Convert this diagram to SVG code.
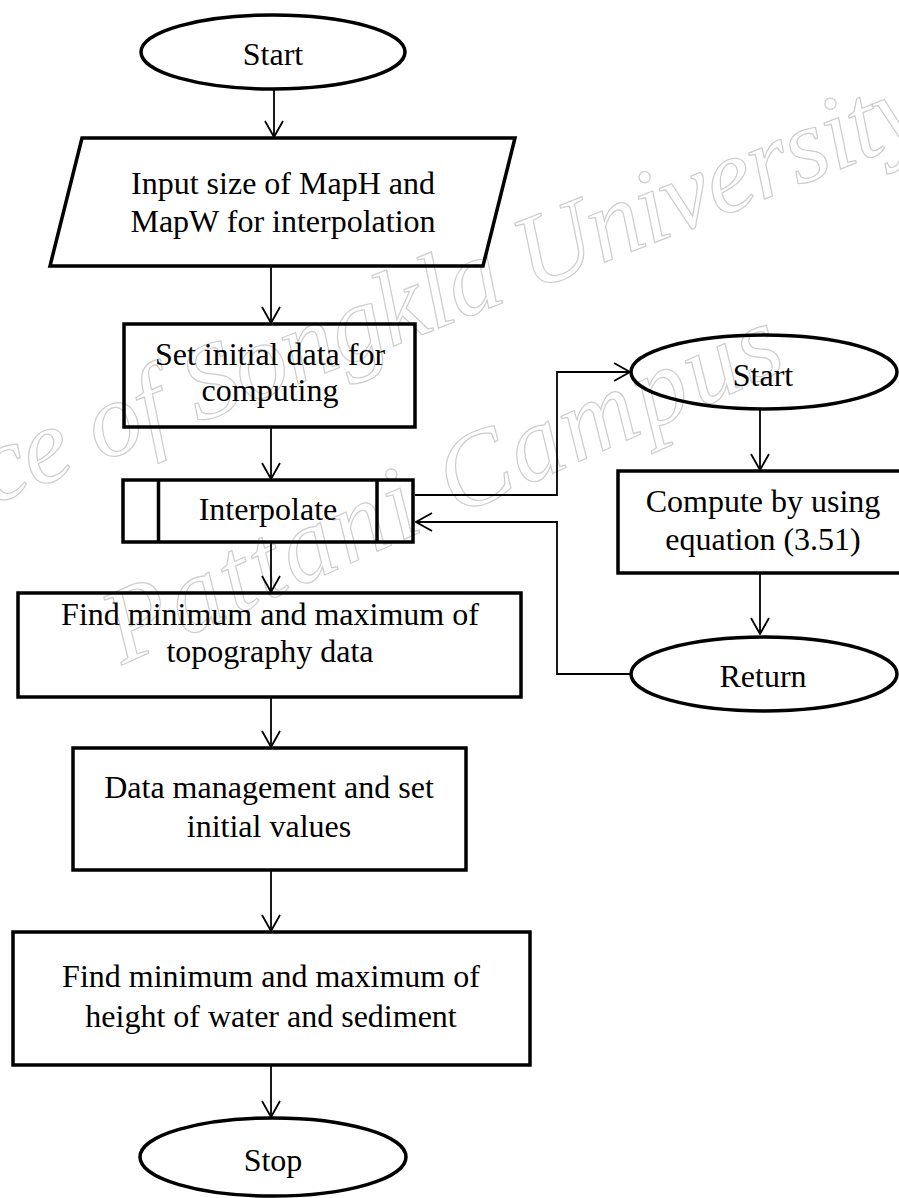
<svg xmlns="http://www.w3.org/2000/svg" width="899" height="1198" viewBox="0 0 899 1198">
  <defs>
    <style>
      .shape { fill: none; stroke: #000; stroke-width: 3.5; }
      .wire { fill: none; stroke: #000; stroke-width: 1.8; }
      .label { font-family: "Liberation Serif", "Times New Roman", serif; font-size: 32px; fill: #000; text-anchor: middle; }
      .mark { font-family: "Liberation Serif", "Times New Roman", serif; font-style: italic; font-size: 106px; fill: none; stroke: #cdcdcd; stroke-width: 1.2; }
    </style>
    <marker id="arrow" viewBox="0 0 18 20" refX="17" refY="10" markerWidth="18" markerHeight="20" markerUnits="userSpaceOnUse" orient="auto">
      <path d="M1,1 L17,10 L1,19" fill="none" stroke="#000" stroke-width="1.8"/>
    </marker>
  </defs>
  <rect width="899" height="1198" fill="#fff"/>

  <!-- faint outlined watermark -->
  <g id="watermark">
    <text class="mark" transform="translate(-8,505) rotate(-21.6)" textLength="1010" lengthAdjust="spacing">ce of Songkla University</text>
    <text class="mark" transform="translate(122,665) rotate(-24)" textLength="730" lengthAdjust="spacing">Pattani Campus</text>
  </g>

  <g id="connectors">
    <line class="wire" x1="274" y1="90" x2="274" y2="137" marker-end="url(#arrow)"/>
    <line class="wire" x1="271" y1="267" x2="271" y2="323" marker-end="url(#arrow)"/>
    <line class="wire" x1="271" y1="428" x2="271" y2="479" marker-end="url(#arrow)"/>
    <line class="wire" x1="271" y1="543" x2="271" y2="592" marker-end="url(#arrow)"/>
    <line class="wire" x1="271" y1="698" x2="271" y2="747" marker-end="url(#arrow)"/>
    <line class="wire" x1="271" y1="871" x2="271" y2="931" marker-end="url(#arrow)"/>
    <line class="wire" x1="271" y1="1066" x2="271" y2="1117" marker-end="url(#arrow)"/>
    <line class="wire" x1="760" y1="410" x2="760" y2="470" marker-end="url(#arrow)"/>
    <line class="wire" x1="760" y1="574" x2="760" y2="634" marker-end="url(#arrow)"/>
    <polyline class="wire" points="415,495 557,495 557,372 630,372" marker-end="url(#arrow)"/>
    <polyline class="wire" points="631,674 557,674 557,522 416,522" marker-end="url(#arrow)"/>
  </g>

  <g id="start">
    <ellipse class="shape" cx="273" cy="52" rx="132" ry="37"/>
    <text class="label" x="273" y="65">Start</text>
  </g>

  <g id="input-size">
    <polygon class="shape" points="82,138 515,138 483,266 50,266"/>
    <text class="label" x="283" y="194">Input size of MapH and</text>
    <text class="label" x="283" y="232">MapW for interpolation</text>
  </g>

  <g id="set-initial">
    <rect class="shape" x="124" y="324" width="291" height="103"/>
    <text class="label" x="270" y="365">Set initial data for</text>
    <text class="label" x="270" y="401">computing</text>
  </g>

  <g id="interpolate">
    <rect class="shape" x="123" y="480" width="290" height="62"/>
    <line class="shape" x1="158.5" y1="480" x2="158.5" y2="542"/>
    <line class="shape" x1="377" y1="480" x2="377" y2="542"/>
    <text class="label" x="268" y="520">Interpolate</text>
  </g>

  <g id="find-topography">
    <rect class="shape" x="18" y="593" width="503" height="104"/>
    <text class="label" x="270" y="625">Find minimum and maximum of</text>
    <text class="label" x="270" y="662">topography data</text>
  </g>

  <g id="data-management">
    <rect class="shape" x="73" y="748" width="393" height="122"/>
    <text class="label" x="269" y="798">Data management and set</text>
    <text class="label" x="269" y="837">initial values</text>
  </g>

  <g id="find-height">
    <rect class="shape" x="13" y="932" width="517" height="133"/>
    <text class="label" x="271" y="987">Find minimum and maximum of</text>
    <text class="label" x="271" y="1027">height of water and sediment</text>
  </g>

  <g id="stop">
    <ellipse class="shape" cx="273" cy="1157" rx="133" ry="39"/>
    <text class="label" x="273" y="1171">Stop</text>
  </g>

  <g id="sub-start">
    <ellipse class="shape" cx="764" cy="372" rx="133" ry="37"/>
    <text class="label" x="763" y="386">Start</text>
  </g>

  <g id="compute">
    <rect class="shape" x="618" y="471" width="292" height="102"/>
    <text class="label" x="763" y="512">Compute by using</text>
    <text class="label" x="763" y="550">equation (3.51)</text>
  </g>

  <g id="return">
    <ellipse class="shape" cx="764" cy="674" rx="133" ry="37"/>
    <text class="label" x="763" y="687">Return</text>
  </g>
</svg>
